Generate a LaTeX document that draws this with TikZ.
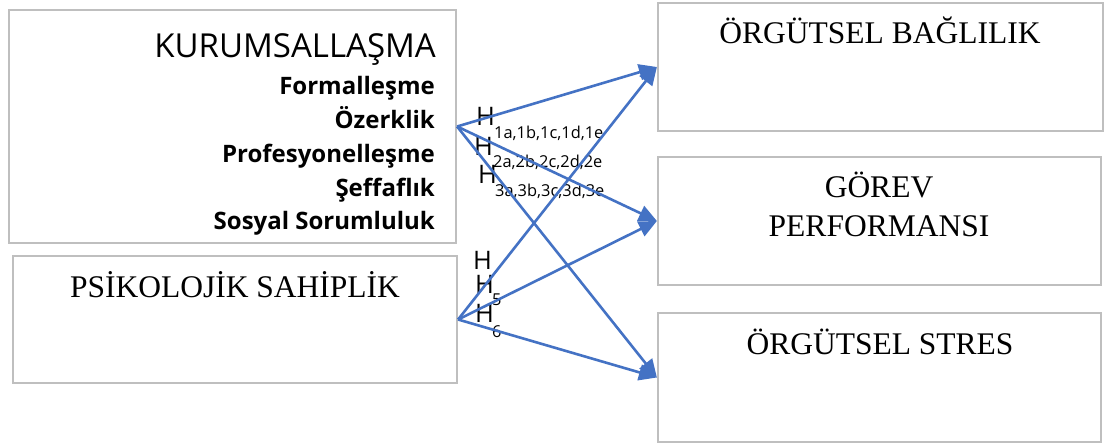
\documentclass[tikz,border=0pt]{standalone}
\usepackage{fontspec}
\setmainfont{Liberation Serif}
\newfontfamily\osans{Open Sans}
\usetikzlibrary{arrows.meta}
\definecolor{boxgrey}{HTML}{BFBFBF}
\definecolor{arrowblue}{HTML}{4472C4}
\tikzset{
  box/.style={draw=boxgrey, line width=2.2pt, inner sep=0pt, fill=white},
  serif/.style={inner sep=0pt, font=\fontsize{31.5}{31.5}\selectfont},
  title/.style={inner sep=0pt, font=\osans\fontsize{33}{33}\selectfont},
  dim/.style={inner sep=0pt, anchor=base east, font=\osans\bfseries\fontsize{24}{24}\selectfont},
  hbig/.style={inner sep=0pt, anchor=base west, font=\osans\fontsize{25.5}{25.5}\selectfont},
  hsub/.style={inner sep=0pt, anchor=base west, font=\osans\fontsize{16.4}{16.4}\selectfont},
  conn/.style={draw=arrowblue, line width=2.6pt, -{Triangle[length=18pt,width=16pt]}},
}
\begin{document}
\begin{tikzpicture}[x=1pt,y=-1pt]
\useasboundingbox[fill=white] (0,0) rectangle (1105,444);
% boxes
\node[box, minimum width=447pt, minimum height=233pt] (kb) at (232.5,126.5) {};
\node[box, minimum width=444pt, minimum height=127pt] (pb) at (235,319.5) {};
\node[box, minimum width=445pt, minimum height=128pt] (ba) at (880.5,67) {};
\node[box, minimum width=443pt, minimum height=128pt] (gp) at (879.5,221) {};
\node[box, minimum width=443pt, minimum height=129pt] (st) at (879.5,377.5) {};
% texts
\node[title, anchor=base east] (kt) at (436,57) {KURUMSALLAŞMA};
\node[dim] (d1) at (435,94) {Formalleşme};
\node[dim] (d2) at (435,128) {Özerklik};
\node[dim] (d3) at (435,162) {Profesyonelleşme};
\node[dim] (d4) at (435,196) {Şeffaflık};
\node[dim] (d5) at (435,229) {Sosyal Sorumluluk};
\node[serif, anchor=base] (pt) at (235,297) {PSİKOLOJİK SAHİPLİK};
\node[serif, anchor=base] (bt) at (880,44) {ÖRGÜTSEL BAĞLILIK};
\node[serif, anchor=base] (gt1) at (879,197) {GÖREV};
\node[serif, anchor=base] (gt2) at (879,236) {PERFORMANSI};
\node[serif, anchor=base] (stt) at (880,354) {ÖRGÜTSEL STRES};
% hypothesis labels
\node[hbig] (h1) at (476,125) {H};
\node[hsub] (h1s) at (494,138) {1a,1b,1c,1d,1e};
\node[hbig] (h2) at (474,155) {H};
\node[hsub] (h2s) at (493,167) {2a,2b,2c,2d,2e};
\node[hbig] (h3) at (478,183) {H};
\node[hsub] (h3s) at (495,196) {3a,3b,3c,3d,3e};
\node[hbig] (h4) at (473,269) {H};
\node[hbig] (h5) at (475,293) {H};
\node[hsub] (h5s) at (492,305) {5};
\node[hbig] (h6) at (475,322) {H};
\node[hsub] (h6s) at (492,337) {6};
% connectors
\draw[conn] (kb.east) -- (ba.west);
\draw[conn] (kb.east) -- (gp.west);
\draw[conn] (kb.east) -- (st.west);
\draw[conn] (pb.east) -- (ba.west);
\draw[conn] (pb.east) -- (gp.west);
\draw[conn] (pb.east) -- (st.west);
\end{tikzpicture}
\end{document}
